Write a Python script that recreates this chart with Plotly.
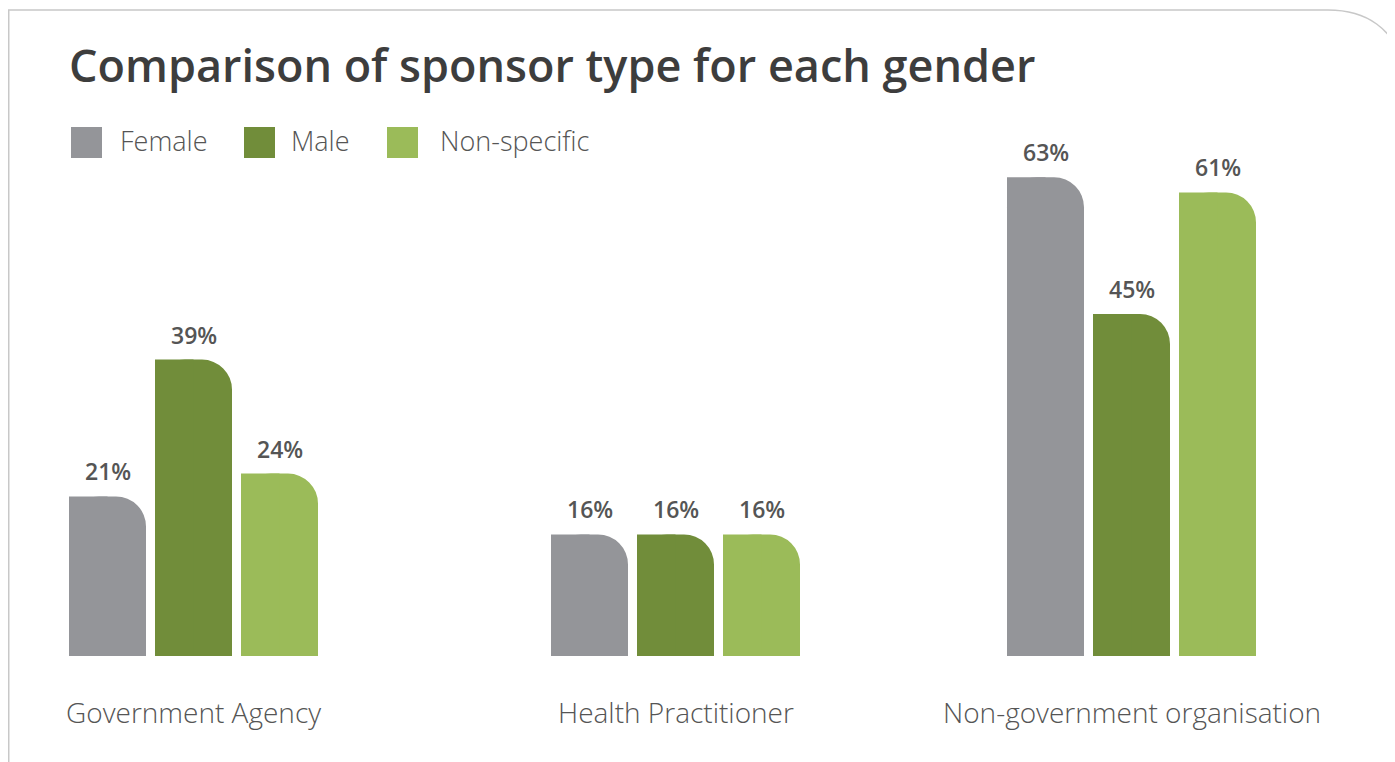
import plotly.graph_objects as go

categories = ["Government Agency", "Health Practitioner", "Non-government organisation"]
series_names = ["Female", "Male", "Non-specific"]
female = [21, 16, 63]
male = [39, 16, 45]
non_specific = [24, 16, 61]
series_values = [female, male, non_specific]
colors = ["#949599", "#718d3a", "#9bbb59"]

# the page body adds an 8px margin; work in page pixels and shift into figure pixels
OX, OY = 8, 8
W, H = 1395 - OX, 762 - OY
UNIT = 469.0          # px per category step
bar_w = 77 / UNIT
offsets = [-124.5 / UNIT, -38.5 / UNIT, 47.5 / UNIT]
group_shift = [0.0, 13 / UNIT, 0.0]   # the middle group sits slightly right
BASE = 656 - OY       # baseline in figure px
PXPCT = 7.6           # px per percent

FONT = "Open Sans"


def fx(x):
    return (x - OX) / W


def fy(y):
    return 1 - (y - OY) / H


fig = go.Figure()
for name, vals, col, off in zip(series_names, series_values, colors, offsets):
    fig.add_trace(go.Bar(
        x=categories, y=vals, name=name,
        marker=dict(color=col, line=dict(width=0), cornerradius=30),
        width=[bar_w] * len(vals), offset=[off + s for s in group_shift], showlegend=False,
        hovertemplate="%{x}<br>" + name + ": %{y}%<extra></extra>"))
# square the top-left corner by overlaying a half-width plain bar
for name, vals, col, off in zip(series_names, series_values, colors, offsets):
    fig.add_trace(go.Bar(
        x=categories, y=vals, name=name, marker=dict(color=col, line=dict(width=0)),
        width=[bar_w / 2] * len(vals), offset=[off + s for s in group_shift], showlegend=False,
        hoverinfo="skip"))

annotations = []
for vals, off in zip(series_values, offsets):
    for j, v in enumerate(vals):
        annotations.append(dict(
            x=j + group_shift[j] + off + bar_w / 2, y=v, xref="x", yref="y",
            text=f"{v}%", showarrow=False, yanchor="bottom", yshift=7,
            font=dict(family=FONT, size=23, color="#555555", weight=600)))

# category labels
for j, c in enumerate(categories):
    annotations.append(dict(
        x=j + group_shift[j], y=fy(712), xref="x", yref="paper", text=c, showarrow=False,
        xanchor="center", yanchor="middle",
        font=dict(family=FONT, size=28, color="#555555", weight=300)))

annotations.append(dict(
    x=fx(67), y=fy(64), xref="paper", yref="paper", xanchor="left", yanchor="middle",
    text="Comparison of sponsor type for each gender", showarrow=False,
    font=dict(family=FONT, size=45, color="#3d3d3d", weight=600)))

shapes = []
legend_sq_x = [71, 244, 387]
legend_txt_x = [118, 289, 438]
for name, col, sx, tx in zip(series_names, colors, legend_sq_x, legend_txt_x):
    shapes.append(dict(type="rect", xref="paper", yref="paper",
                       x0=fx(sx), x1=fx(sx + 31), y0=fy(158), y1=fy(127),
                       fillcolor=col, line=dict(width=0)))
    annotations.append(dict(
        x=fx(tx), y=fy(140), xref="paper", yref="paper", xanchor="left", yanchor="middle",
        text=name, showarrow=False,
        font=dict(family=FONT, size=27, color="#555555", weight=300)))


def p(x, y):
    return f"{fx(x):.5f},{fy(y):.5f}"


path = (f"M {p(8.75, 775)} L {p(8.75, 10)} L {p(1328, 10)} "
        f"C {p(1368, 10)} {p(1393, 30)} {p(1402, 62)}")
shapes.append(dict(type="path", xref="paper", yref="paper", path=path,
                   line=dict(color="#c8c8c8", width=1.5)))

x0 = -(193.5 - OX) / UNIT
fig.update_layout(
    width=W, height=H,
    margin=dict(l=0, r=0, t=0, b=0),
    paper_bgcolor="white", plot_bgcolor="white",
    barmode="overlay",
    showlegend=False,
    annotations=annotations,
    shapes=shapes,
    xaxis=dict(domain=[0, 1], range=[x0, x0 + W / UNIT],
               showgrid=False, zeroline=False, showline=False, showticklabels=False),
    yaxis=dict(domain=[(H - BASE) / H, 1], range=[0, BASE / PXPCT],
               showgrid=False, zeroline=False, showline=False, showticklabels=False),
)

fig.write_html("out.html")
